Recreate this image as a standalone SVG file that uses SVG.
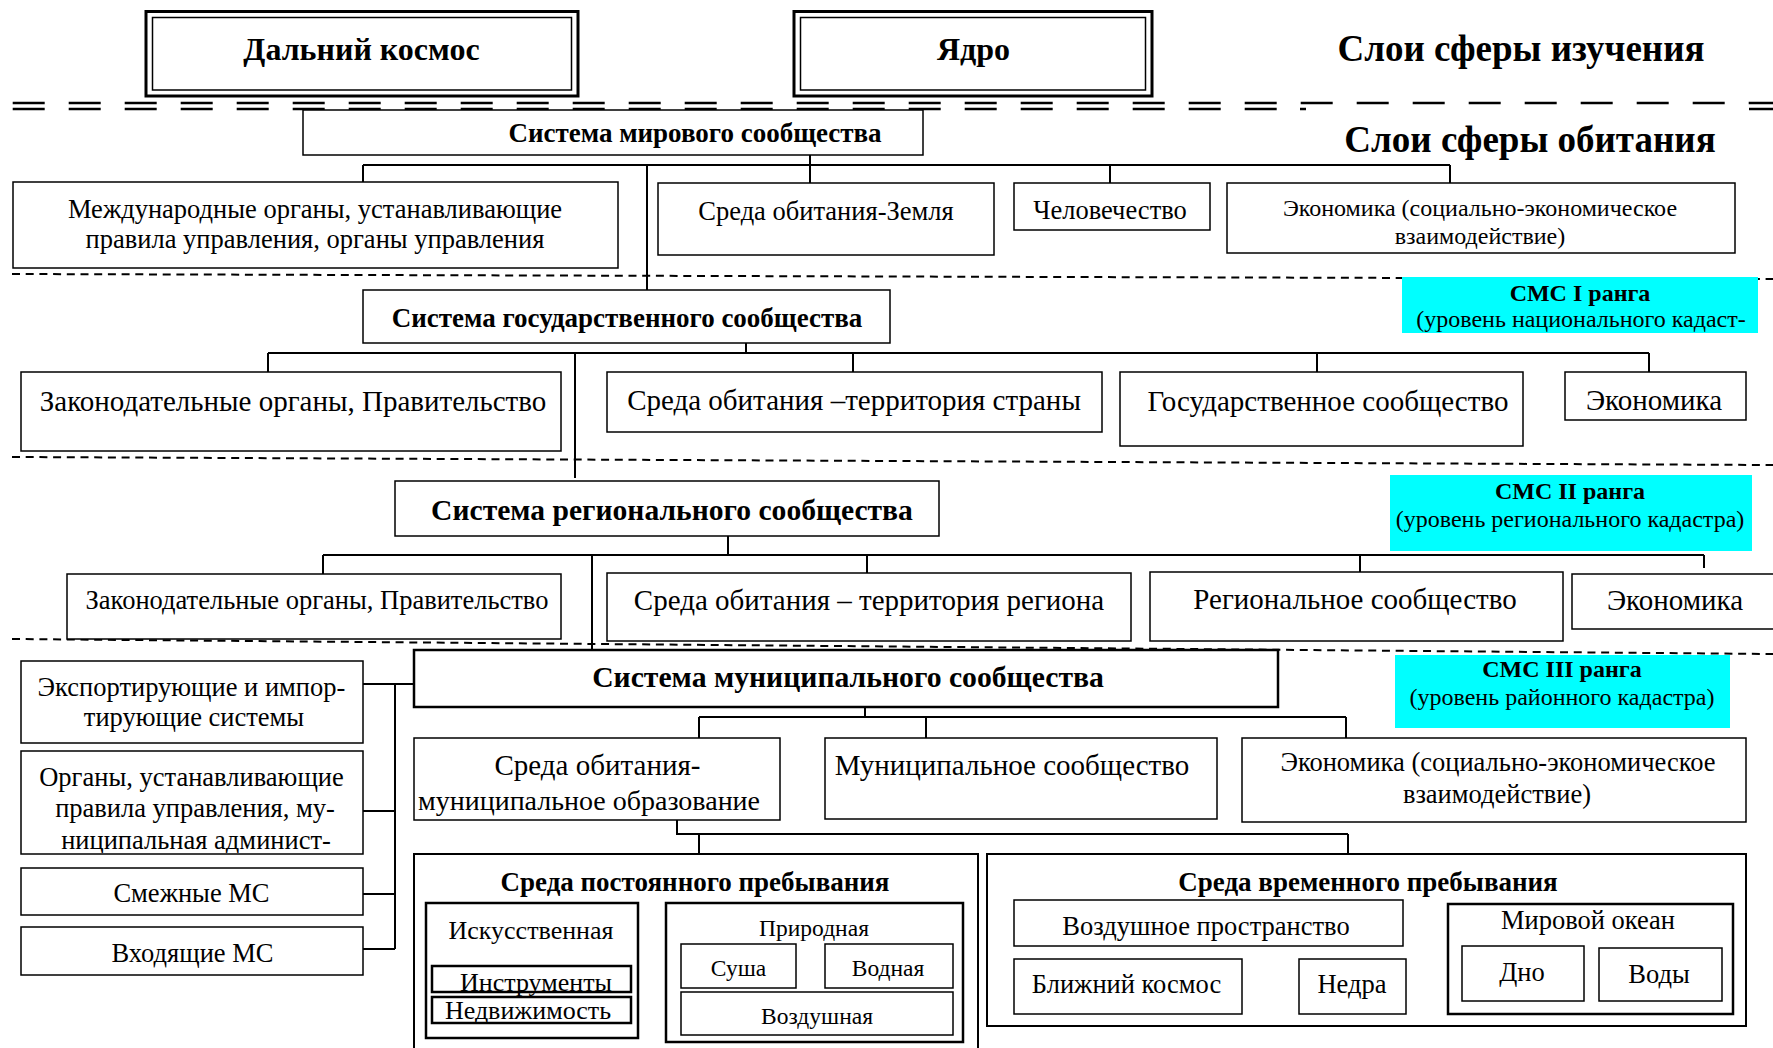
<svg xmlns="http://www.w3.org/2000/svg" width="1773" height="1048" viewBox="0 0 1773 1048">
<style>
.t{font-family:"Liberation Serif","Times New Roman",serif;text-anchor:middle;fill:#000}
.b{font-weight:bold}
.bx{fill:#fff;stroke:#000;stroke-width:1.5}
.bx2{fill:#fff;stroke:#000;stroke-width:2.5}
.dbo{fill:#fff;stroke:#000;stroke-width:3}
.dbi{fill:none;stroke:#000;stroke-width:1.5}
.cy{fill:#00ffff}
.ln{stroke:#000;stroke-width:2;fill:none}
.dot{stroke:#000;stroke-width:2;stroke-dasharray:8 5.7;fill:none}
.dd{stroke:#000;stroke-width:2.5;stroke-dasharray:32 24;fill:none}
</style>
<defs>
<clipPath id="clipOrg"><rect x="22" y="752" width="340" height="101"/></clipPath>
<clipPath id="clipSreda"><rect x="415" y="739" width="364" height="79"/></clipPath>
</defs>
<rect width="1773" height="1048" fill="#fff"/>

<g id="separators">
<line class="dd" x1="12.7" y1="103" x2="1773" y2="103"/>
<line class="dd" x1="12.7" y1="109" x2="1277" y2="109"/>
<line class="dd" x1="1749" y1="109" x2="1773" y2="109"/>
<line class="ln" x1="1300" y1="109" x2="1306" y2="109" style="stroke-width:2.5"/>
<line class="dot" x1="12" y1="274" x2="1773" y2="279"/>
<line class="dot" x1="12" y1="457" x2="1773" y2="465"/>
<line class="dot" x1="12" y1="639" x2="1773" y2="654"/>
</g>

<g id="connectors">
<path class="ln" d="M363 165H1450M363 165V182M810 155V183M1110 165V183M1450 165V183M647 165V290"/>
<path class="ln" d="M746 343V353M268 353H1649M268 353V372M853 353V372M1317 353V372M1649 353V372M575 353V478"/>
<path class="ln" d="M728 536V555M323 555H1704M323 555V574M867 555V573M1360 555V572M1704 555V568M592 555V650"/>
<path class="ln" d="M395 684V949M363 684H414M363 811H395M363 894H395M363 949H395"/>
<path class="ln" d="M865 707V717M699 717H1346M699 717V738M926 717V738M1346 717V738"/>
<path class="ln" d="M677 820V834H1348M699 834V854M1348 834V854"/>
</g>

<g id="n-dalniy">
<rect class="dbo" x="146" y="11.5" width="432" height="84.5"/>
<rect class="dbi" x="152.5" y="17.5" width="419" height="72.5"/>
<text class="t b" x="361.5" y="60" font-size="32">Дальний космос</text>
</g>
<g id="n-yadro">
<rect class="dbo" x="794" y="11.5" width="358" height="84.5"/>
<rect class="dbi" x="800.5" y="17.5" width="345" height="72.5"/>
<text class="t b" x="973.5" y="60" font-size="32">Ядро</text>
</g>
<g id="l-izuch"><text class="t b" x="1521" y="61" font-size="37">Слои сферы изучения</text></g>
<g id="l-obit"><text class="t b" x="1530" y="152" font-size="37">Слои сферы обитания</text></g>

<g id="n-mir">
<rect class="bx" x="303" y="110" width="620" height="45"/>
<text class="t b" x="695" y="142" font-size="27">Система мирового сообщества</text>
</g>
<g id="n-mezhd">
<rect class="bx" x="13" y="182" width="605" height="86"/>
<text class="t" x="315" y="218" font-size="26.5">Международные органы, устанавливающие</text>
<text class="t" x="315" y="248" font-size="26.5">правила управления, органы управления</text>
</g>
<g id="n-zemlya">
<rect class="bx" x="658" y="183" width="336" height="72"/>
<text class="t" x="826" y="220" font-size="26.5">Среда обитания-Земля</text>
</g>
<g id="n-chel">
<rect class="bx" x="1014" y="183" width="196" height="47"/>
<text class="t" x="1110" y="219" font-size="26.5">Человечество</text>
</g>
<g id="n-ekon1">
<rect class="bx" x="1227" y="183" width="508" height="70"/>
<text class="t" x="1480" y="216" font-size="24">Экономика (социально-экономическое</text>
<text class="t" x="1480" y="244" font-size="24">взаимодействие)</text>
</g>
<g id="n-smc1">
<rect class="cy" x="1402" y="277" width="356" height="56"/>
<text class="t b" x="1580" y="301" font-size="24">СМС I ранга</text>
<text class="t" x="1581" y="327" font-size="24">(уровень национального кадаст-</text>
</g>

<g id="n-gos">
<rect class="bx" x="363" y="290" width="527" height="53"/>
<text class="t b" x="627" y="327" font-size="27">Система государственного сообщества</text>
</g>
<g id="n-zak1">
<rect class="bx" x="21" y="372" width="540" height="79"/>
<text class="t" x="293" y="411" font-size="29">Законодательные органы, Правительство</text>
</g>
<g id="n-strana">
<rect class="bx" x="607" y="372" width="495" height="60"/>
<text class="t" x="854" y="410" font-size="29">Среда обитания –территория страны</text>
</g>
<g id="n-gossoob">
<rect class="bx" x="1120" y="372" width="403" height="74"/>
<text class="t" x="1328" y="411" font-size="29">Государственное сообщество</text>
</g>
<g id="n-ekon2">
<rect class="bx" x="1565" y="372" width="181" height="48"/>
<text class="t" x="1654" y="410" font-size="29">Экономика</text>
</g>
<g id="n-smc2">
<rect class="cy" x="1390" y="475" width="362" height="76"/>
<text class="t b" x="1570" y="499" font-size="24">СМС II ранга</text>
<text class="t" x="1570" y="527" font-size="24">(уровень регионального кадастра)</text>
</g>

<g id="n-reg">
<rect class="bx" x="395" y="481" width="544" height="55"/>
<text class="t b" x="672" y="520" font-size="29.6">Система регионального сообщества</text>
</g>
<g id="n-zak2">
<rect class="bx" x="67" y="574" width="494" height="65"/>
<text class="t" x="317" y="609" font-size="26.5">Законодательные органы, Правительство</text>
</g>
<g id="n-region">
<rect class="bx" x="607" y="573" width="524" height="68"/>
<text class="t" x="869" y="610" font-size="29">Среда обитания – территория региона</text>
</g>
<g id="n-regsoob">
<rect class="bx" x="1150" y="572" width="413" height="69"/>
<text class="t" x="1355" y="609" font-size="29">Региональное сообщество</text>
</g>
<g id="n-ekon3">
<rect class="bx" x="1572" y="574" width="212" height="55"/>
<text class="t" x="1675" y="610" font-size="29">Экономика</text>
</g>
<g id="n-smc3">
<rect class="cy" x="1395" y="655" width="335" height="73"/>
<text class="t b" x="1562" y="677" font-size="24">СМС III ранга</text>
<text class="t" x="1562" y="705" font-size="24">(уровень районного кадастра)</text>
</g>

<g id="n-mun">
<rect class="bx2" x="414" y="650" width="864" height="57"/>
<text class="t b" x="848" y="687" font-size="29.7">Система муниципального сообщества</text>
</g>
<g id="n-export">
<rect class="bx" x="21" y="661" width="342" height="82"/>
<text class="t" x="191.5" y="696" font-size="26.5">Экспортирующие и импор-</text>
<text class="t" x="194" y="726" font-size="26.5">тирующие системы</text>
</g>
<g id="n-organy">
<rect class="bx" x="21" y="751" width="342" height="103"/>
<g clip-path="url(#clipOrg)">
<text class="t" x="191.5" y="786" font-size="26.5">Органы, устанавливающие</text>
<text class="t" x="195" y="817" font-size="26.5">правила управления, му-</text>
<text class="t" x="196" y="849" font-size="26.5">ниципальная админист-</text>
</g>
</g>
<g id="n-smezh">
<rect class="bx" x="21" y="868" width="342" height="47"/>
<text class="t" x="191.5" y="902" font-size="26.5">Смежные МС</text>
</g>
<g id="n-vhod">
<rect class="bx" x="21" y="927" width="342" height="48"/>
<text class="t" x="192.5" y="962" font-size="26.5">Входящие МС</text>
</g>

<g id="n-sredamun">
<rect class="bx" x="414" y="738" width="366" height="82"/>
<g clip-path="url(#clipSreda)">
<text class="t" x="597.5" y="775" font-size="29">Среда обитания-</text>
<text class="t" x="589" y="810" font-size="28">муниципальное образование</text>
</g>
</g>
<g id="n-munsoob">
<rect class="bx" x="825" y="738" width="392" height="81"/>
<text class="t" x="1012" y="775" font-size="29">Муниципальное сообщество</text>
</g>
<g id="n-ekon4">
<rect class="bx" x="1242" y="738" width="504" height="84"/>
<text class="t" x="1498" y="771" font-size="26.5">Экономика (социально-экономическое</text>
<text class="t" x="1497" y="803" font-size="26.5">взаимодействие)</text>
</g>

<g id="n-postoyan">
<rect class="bx2" x="414" y="854" width="564" height="210" style="stroke-width:2"/>
<text class="t b" x="695" y="891" font-size="27">Среда постоянного пребывания</text>
</g>
<g id="n-iskus">
<rect class="bx2" x="426" y="903" width="212" height="135"/>
<text class="t" x="531" y="939" font-size="26">Искусственная</text>
</g>
<g id="n-instr">
<rect class="bx2" x="432" y="966" width="199" height="26"/>
<text class="t" x="536" y="991" font-size="26">Инструменты</text>
</g>
<g id="n-nedv">
<rect class="bx2" x="432" y="997" width="199" height="26"/>
<text class="t" x="528" y="1019" font-size="26">Недвижимость</text>
</g>
<g id="n-prirod">
<rect class="bx2" x="666" y="903" width="297" height="139"/>
<text class="t" x="814" y="936" font-size="23.5">Природная</text>
</g>
<g id="n-susha">
<rect class="bx" x="681" y="944" width="115" height="44"/>
<text class="t" x="738.5" y="976" font-size="23.5">Суша</text>
</g>
<g id="n-vodnaya">
<rect class="bx" x="825" y="944" width="128" height="44"/>
<text class="t" x="888" y="976" font-size="23.5">Водная</text>
</g>
<g id="n-vozdush">
<rect class="bx" x="681" y="992" width="272" height="43"/>
<text class="t" x="817" y="1024" font-size="23.5">Воздушная</text>
</g>

<g id="n-vremen">
<rect class="bx2" x="987" y="854" width="759" height="172" style="stroke-width:2"/>
<text class="t b" x="1368" y="891" font-size="27">Среда временного пребывания</text>
</g>
<g id="n-vozdprost">
<rect class="bx" x="1014" y="900" width="389" height="46"/>
<text class="t" x="1206" y="935" font-size="26.5">Воздушное пространство</text>
</g>
<g id="n-blizh">
<rect class="bx" x="1014" y="959" width="228" height="55"/>
<text class="t" x="1126.5" y="993" font-size="26.5">Ближний космос</text>
</g>
<g id="n-nedra">
<rect class="bx" x="1299" y="959" width="107" height="55"/>
<text class="t" x="1352" y="993" font-size="26.5">Недра</text>
</g>
<g id="n-okean">
<rect class="bx2" x="1448" y="904" width="285" height="110"/>
<text class="t" x="1588" y="929" font-size="26.5">Мировой океан</text>
</g>
<g id="n-dno">
<rect class="bx" x="1462" y="946" width="122" height="55"/>
<text class="t" x="1522" y="981" font-size="26.5">Дно</text>
</g>
<g id="n-vody">
<rect class="bx" x="1599" y="948" width="123" height="53"/>
<text class="t" x="1659" y="983" font-size="26.5">Воды</text>
</g>
</svg>
